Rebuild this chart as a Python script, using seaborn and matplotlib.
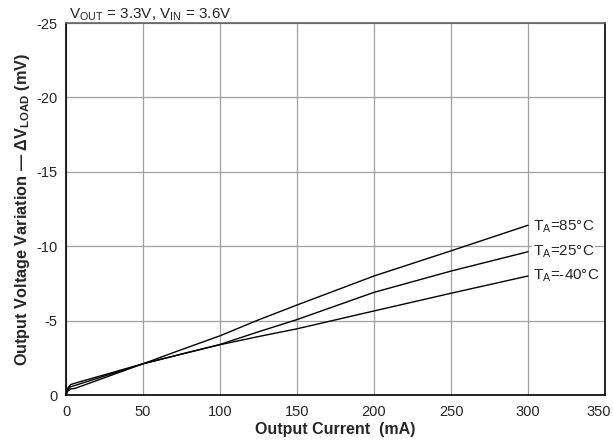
import pandas as pd
import matplotlib
matplotlib.use("Agg")
import matplotlib.pyplot as plt
import matplotlib.transforms as mtransforms
import seaborn as sns

# Datos
current = [0, 1, 3, 6, 50, 75, 100, 125, 150, 200, 250, 300]
temps = ["-40", "25", "85"]
dv_m40 = [0, -0.45, -0.7, -0.8, -2.1, -2.75, -3.38, -3.93, -4.45, -5.65, -6.84, -8.0]
dv_25 = [0, -0.35, -0.55, -0.65, -2.1, -2.75, -3.4, -4.25, -5.07, -6.9, -8.33, -9.63]
dv_85 = [0, -0.25, -0.4, -0.45, -2.1, -3.05, -3.98, -5.05, -6.05, -8.0, -9.69, -11.41]
label_y = [-7.8, -9.4, -11.08]

sns.set_theme(style="whitegrid")
plt.rcParams["font.family"] = ["Liberation Sans", "DejaVu Sans"]
plt.rcParams["axes.unicode_minus"] = False
plt.rcParams["mathtext.fontset"] = "custom"
plt.rcParams["mathtext.rm"] = "Liberation Sans"
plt.rcParams["mathtext.bf"] = "Liberation Sans:bold"

df = pd.DataFrame({
    "current": current * 3,
    "dv": dv_m40 + dv_25 + dv_85,
    "temp": [t for t in temps for _ in current],
})

fig = plt.figure(figsize=(6.13, 4.42), dpi=100)
ax = fig.add_axes([0.1077, 0.1063, 0.8793, 0.8416])

sns.lineplot(data=df, x="current", y="dv", hue="temp",
             palette=["black"] * 3, linewidth=1.0, legend=False, ax=ax)

ax.set_xlim(0, 350)
ax.set_ylim(0, -25)
ax.set_xticks(range(0, 351, 50))
ax.set_yticks(range(0, -26, -5))
ax.tick_params(labelsize=10.5, length=0)
ax.tick_params(axis="y", pad=6)
ax.tick_params(axis="x", pad=7)
ax.grid(True, color="#a0a0a0", linewidth=0.9)
for s in ax.spines.values():
    s.set_color("black")
    s.set_linewidth(1.2)
ax.spines["top"].set_color("#606060")

# la etiqueta 350 queda un poco corrida a la izquierda
last = ax.get_xticklabels()[-1]
last.set_transform(last.get_transform() +
                   mtransforms.ScaledTranslation(-6 / 100, 0, fig.dpi_scale_trans))

ax.set_xlabel("Output Current  (mA)", fontsize=11.5, fontweight="bold", labelpad=2)
ax.set_ylabel(r"Output Voltage Variation — ΔV$_{\mathbf{LOAD}}$ (mV)",
              fontsize=11.7, fontweight="bold", labelpad=3)

for t, y in zip(temps, label_y):
    ax.text(303, y, r"T$_{\mathrm{A}}$=" + t + "°C", fontsize=11,
            ha="left", va="baseline",
            bbox=dict(facecolor="white", edgecolor="none", pad=0.5))

fig.text(0.1126, 1 - 18.5 / 442, r"V$_{\mathrm{OUT}}$ = 3.3V, V$_{\mathrm{IN}}$ = 3.6V",
         fontsize=11, ha="left", va="baseline")

fig.savefig("out.png", dpi=100)
